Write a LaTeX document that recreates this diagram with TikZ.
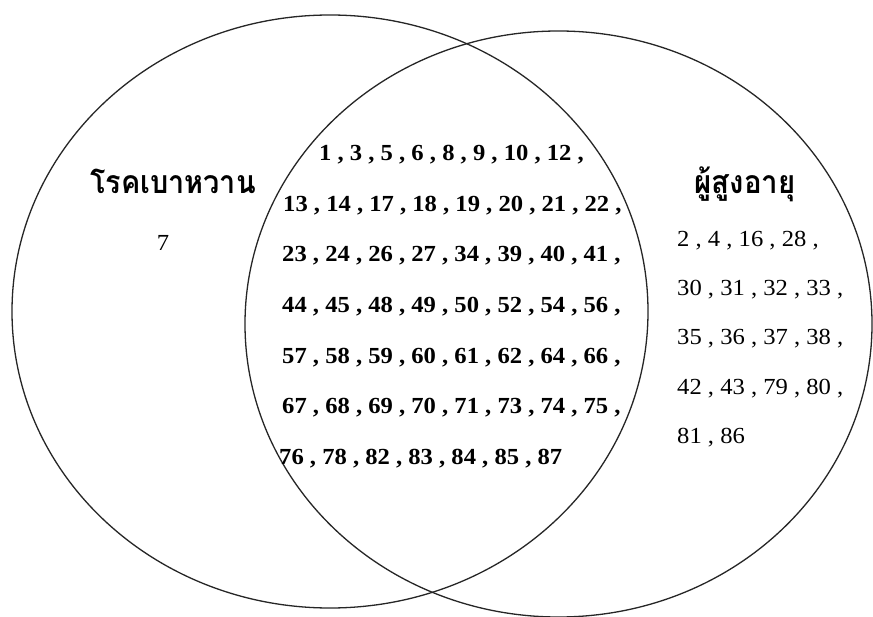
\documentclass[tikz,border=0pt]{standalone}
\usepackage{fontspec}
\setmainfont{Liberation Serif}
\newfontfamily\thaifont[Script=Thai]{Loma}
\newcommand{\midrow}[1]{\scalebox{1.07}[1]{#1}}
\newcommand{\siderow}[1]{\scalebox{1.07}[1]{#1}}
\begin{document}
\begin{tikzpicture}[x=1pt,y=-1pt,
  setline/.style={line width=1.3pt, draw=black!85},
  numrow/.style={anchor=base west, inner sep=0pt, font=\fontsize{23}{23}\selectfont\bfseries},
  sidenum/.style={anchor=base west, inner sep=0pt, font=\fontsize{23}{23}\selectfont},
  setlabel/.style={anchor=base, inner sep=0pt, font=\fontsize{32}{32}\thaifont\bfseries}]
\useasboundingbox (0,0) rectangle (873,617);
\fill[white] (0,0) rectangle (873,617);
% sets
\draw[setline] (330,311.5) ellipse [x radius=318, y radius=296.5];
\draw[setline] (558.5,324) ellipse [x radius=313.5, y radius=293];
% labels
\node[setlabel] (lbA) at (173,194) {\scalebox{0.9}[1]{โรคเบาหวาน}};
\node[setlabel] (lbB) at (745,194) {\scalebox{0.92}[1]{ผู้สูงอายุ}};
% only diabetes
\node[sidenum, anchor=base] (onlyA) at (163,251) {\siderow{7}};
% intersection
\node[numrow] (r1) at (319,160.5) {\midrow{1 , 3 , 5 , 6 , 8 , 9 , 10 , 12 ,}};
\node[numrow] (r2) at (283,211.5) {\midrow{13 , 14 , 17 , 18 , 19 , 20 , 21 , 22 ,}};
\node[numrow] (r3) at (282,262) {\midrow{23 , 24 , 26 , 27 , 34 , 39 , 40 , 41 ,}};
\node[numrow] (r4) at (282,313) {\midrow{44 , 45 , 48 , 49 , 50 , 52 , 54 , 56 ,}};
\node[numrow] (r5) at (282,363.5) {\midrow{57 , 58 , 59 , 60 , 61 , 62 , 64 , 66 ,}};
\node[numrow] (r6) at (282,414) {\midrow{67 , 68 , 69 , 70 , 71 , 73 , 74 , 75 ,}};
\node[numrow] (r7) at (279,464.5) {\midrow{76 , 78 , 82 , 83 , 84 , 85 , 87}};
% only elderly
\node[sidenum] (s1) at (677,246.5) {\siderow{2 , 4 , 16 , 28 ,}};
\node[sidenum] (s2) at (677,295.5) {\siderow{30 , 31 , 32 , 33 ,}};
\node[sidenum] (s3) at (677,345) {\siderow{35 , 36 , 37 , 38 ,}};
\node[sidenum] (s4) at (677,394.5) {\siderow{42 , 43 , 79 , 80 ,}};
\node[sidenum] (s5) at (677,443.5) {\siderow{81 , 86}};
\end{tikzpicture}
\end{document}
